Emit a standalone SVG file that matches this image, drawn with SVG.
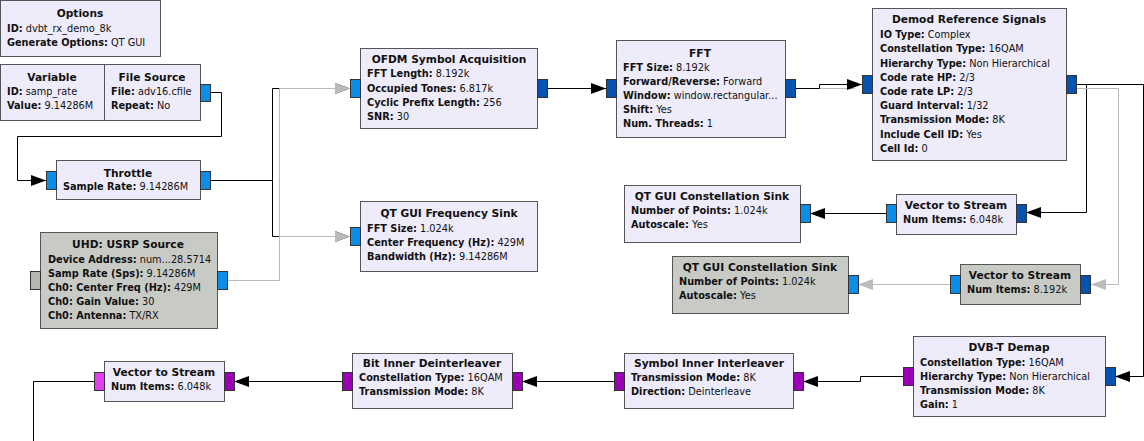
<svg xmlns="http://www.w3.org/2000/svg" width="1144" height="441" viewBox="0 0 1144 441">
<defs>
<style>
.blk{fill:#eeecfb;stroke:#555;stroke-width:1}
.dis{fill:#c8cac6;stroke:#555;stroke-width:1}
.pl{fill:#0c8ee8;stroke:#333;stroke-width:1}
.pd{fill:#0553b0;stroke:#333;stroke-width:1}
.pp{fill:#9a00b6;stroke:#333;stroke-width:1}
.pk{fill:#e23ef0;stroke:#333;stroke-width:1}
.pg{fill:#b4b6b2;stroke:#333;stroke-width:1}
text{font-family:"DejaVu Sans",sans-serif;font-size:9.75px;fill:#111}
.t{font-weight:bold;text-anchor:middle;font-size:10.67px}
.k{font-weight:bold}
.c{fill:none;stroke:#000;stroke-width:1}
.cb{marker-end:url(#ab)}
.g{fill:none;stroke:#bbb;stroke-width:1}
.cg{marker-end:url(#ag)}
</style>
<marker id="ab" viewBox="0 0 15 11" refX="15" refY="5.5" markerWidth="15" markerHeight="11" markerUnits="userSpaceOnUse" orient="auto"><path d="M0,0 L15,5.5 L0,11 z" fill="#000"/></marker>
<marker id="ag" viewBox="0 0 15 11" refX="15" refY="5.5" markerWidth="15" markerHeight="11" markerUnits="userSpaceOnUse" orient="auto"><path d="M0,0 L15,5.5 L0,11 z" fill="#bbb"/></marker>
</defs>
<rect width="1144" height="441" fill="#fff"/>

<g id="connectors">
<path class="c cb" d="M210,92.5 H221.5 V136.5 H17.5 V180.5 H46"/>
<path class="c cb" d="M210,180.5 H272.5 V88.5 H350"/>
<path class="c cb" d="M272.5,180.5 V236.5 H350"/>
<path class="c cb" d="M547,88.5 H606"/>
<path class="g" d="M819.5,88.5 H855"/>
<path class="c cb" d="M795,88.5 H819.5 V84.5 H862"/>
<path class="c cb" d="M1076,84.5 H1086.5 V212.5 H1026"/>
<path class="c cb" d="M886,213.5 H810"/>
<path class="c cb" d="M1076,84.5 H1143.5 V376.5 H1115"/>
<path class="c cb" d="M903,376.5 H860.5 V381.5 H803"/>
<path class="c cb" d="M614,381.5 H522"/>
<path class="c cb" d="M342,381.5 H234"/>
<path class="c" d="M94,381.5 H33.5 V441"/>
<path class="g cg" d="M227,280.5 H279.5 V88.5 H350"/>
<path class="g cg" d="M279.5,236.5 H350"/>
<path class="g cg" d="M1076,88.5 H1118.5 V284.5 H1091"/>
<path class="g cg" d="M950,284.5 H858"/>
</g>

<g id="options">
<rect class="blk" x="0.5" y="0.5" width="160" height="56"/>
<text class="t" x="80" y="17">Options</text>
<text x="7" y="32"><tspan class="k">ID:</tspan> dvbt_rx_demo_8k</text>
<text x="7" y="46"><tspan class="k">Generate Options:</tspan> QT GUI</text>
</g>

<g id="variable">
<rect class="blk" x="0.5" y="64.5" width="104" height="56"/>
<text class="t" x="52" y="81">Variable</text>
<text x="7" y="95"><tspan class="k">ID:</tspan> samp_rate</text>
<text x="7" y="109"><tspan class="k">Value:</tspan> 9.14286M</text>
</g>

<g id="file_source">
<rect class="blk" x="104.5" y="64.5" width="96" height="56"/>
<text class="t" x="152" y="81">File Source</text>
<text x="111" y="95"><tspan class="k">File:</tspan> adv16.cfile</text>
<text x="111" y="109"><tspan class="k">Repeat:</tspan> No</text>
<rect class="pl" x="200.5" y="84.5" width="10" height="17"/>
</g>

<g id="throttle">
<rect class="blk" x="56.5" y="160.5" width="144" height="39"/>
<text class="t" x="128" y="177">Throttle</text>
<text x="63" y="190"><tspan class="k">Sample Rate:</tspan> 9.14286M</text>
<rect class="pl" x="46.5" y="171.5" width="10" height="18"/>
<rect class="pl" x="200.5" y="171.5" width="10" height="18"/>
</g>

<g id="usrp_source">
<rect class="dis" x="40.5" y="232.5" width="177" height="96"/>
<text class="t" x="128" y="248">UHD: USRP Source</text>
<text x="48" y="263"><tspan class="k">Device Address:</tspan> num...28.5714</text>
<text x="48" y="277"><tspan class="k">Samp Rate (Sps):</tspan> 9.14286M</text>
<text x="48" y="291"><tspan class="k">Ch0: Center Freq (Hz):</tspan> 429M</text>
<text x="48" y="305"><tspan class="k">Ch0: Gain Value:</tspan> 30</text>
<text x="48" y="319"><tspan class="k">Ch0: Antenna:</tspan> TX/RX</text>
<rect class="pg" x="30.5" y="271.5" width="10" height="18"/>
<rect class="pl" x="217.5" y="271.5" width="10" height="18"/>
</g>

<g id="ofdm_sym_acq">
<rect class="blk" x="360.5" y="48.5" width="177" height="80"/>
<text class="t" x="449" y="63">OFDM Symbol Acquisition</text>
<text x="367" y="77"><tspan class="k">FFT Length:</tspan> 8.192k</text>
<text x="367" y="91.5"><tspan class="k">Occupied Tones:</tspan> 6.817k</text>
<text x="367" y="106"><tspan class="k">Cyclic Prefix Length:</tspan> 256</text>
<text x="367" y="120"><tspan class="k">SNR:</tspan> 30</text>
<rect class="pl" x="350.5" y="79.5" width="10" height="18"/>
<rect class="pd" x="537.5" y="79.5" width="10" height="18"/>
</g>

<g id="freq_sink">
<rect class="blk" x="360.5" y="201.5" width="177" height="70"/>
<text class="t" x="449" y="217">QT GUI Frequency Sink</text>
<text x="367" y="232"><tspan class="k">FFT Size:</tspan> 1.024k</text>
<text x="367" y="246"><tspan class="k">Center Frequency (Hz):</tspan> 429M</text>
<text x="367" y="260"><tspan class="k">Bandwidth (Hz):</tspan> 9.14286M</text>
<rect class="pl" x="350.5" y="227.5" width="10" height="18"/>
</g>

<g id="fft">
<rect class="blk" x="616.5" y="40.5" width="169" height="97"/>
<text class="t" x="700" y="57">FFT</text>
<text x="623" y="71"><tspan class="k">FFT Size:</tspan> 8.192k</text>
<text x="623" y="85"><tspan class="k">Forward/Reverse:</tspan> Forward</text>
<text x="623" y="99"><tspan class="k">Window:</tspan> window.rectangular...</text>
<text x="623" y="113"><tspan class="k">Shift:</tspan> Yes</text>
<text x="623" y="127"><tspan class="k">Num. Threads:</tspan> 1</text>
<rect class="pd" x="606.5" y="79.5" width="10" height="18"/>
<rect class="pd" x="785.5" y="79.5" width="10" height="18"/>
</g>

<g id="demod_ref">
<rect class="blk" x="872.5" y="8.5" width="194" height="152"/>
<text class="t" x="969" y="23">Demod Reference Signals</text>
<text x="880" y="38"><tspan class="k">IO Type:</tspan> Complex</text>
<text x="880" y="52"><tspan class="k">Constellation Type:</tspan> 16QAM</text>
<text x="880" y="66.5"><tspan class="k">Hierarchy Type:</tspan> Non Hierarchical</text>
<text x="880" y="80.5"><tspan class="k">Code rate HP:</tspan> 2/3</text>
<text x="880" y="95"><tspan class="k">Code rate LP:</tspan> 2/3</text>
<text x="880" y="109"><tspan class="k">Guard Interval:</tspan> 1/32</text>
<text x="880" y="123"><tspan class="k">Transmission Mode:</tspan> 8K</text>
<text x="880" y="137.5"><tspan class="k">Include Cell ID:</tspan> Yes</text>
<text x="880" y="151.5"><tspan class="k">Cell Id:</tspan> 0</text>
<rect class="pd" x="862.5" y="75.5" width="10" height="18"/>
<rect class="pd" x="1066.5" y="75.5" width="10" height="18"/>
</g>

<g id="const_sink_1">
<rect class="blk" x="624.5" y="185.5" width="176" height="57"/>
<text class="t" x="712" y="200">QT GUI Constellation Sink</text>
<text x="631" y="214"><tspan class="k">Number of Points:</tspan> 1.024k</text>
<text x="631" y="228"><tspan class="k">Autoscale:</tspan> Yes</text>
<rect class="pl" x="800.5" y="204.5" width="10" height="18"/>
</g>

<g id="vts_1">
<rect class="blk" x="896.5" y="194.5" width="120" height="40"/>
<text class="t" x="956" y="209">Vector to Stream</text>
<text x="903" y="223"><tspan class="k">Num Items:</tspan> 6.048k</text>
<rect class="pl" x="886.5" y="204.5" width="10" height="18"/>
<rect class="pd" x="1016.5" y="204.5" width="10" height="18"/>
</g>

<g id="const_sink_2">
<rect class="dis" x="672.5" y="256.5" width="176" height="57"/>
<text class="t" x="760" y="271">QT GUI Constellation Sink</text>
<text x="679" y="285"><tspan class="k">Number of Points:</tspan> 1.024k</text>
<text x="679" y="299"><tspan class="k">Autoscale:</tspan> Yes</text>
<rect class="pl" x="848.5" y="275.5" width="10" height="18"/>
</g>

<g id="vts_2">
<rect class="dis" x="960.5" y="264.5" width="120" height="40"/>
<text class="t" x="1020" y="279">Vector to Stream</text>
<text x="967" y="293"><tspan class="k">Num Items:</tspan> 8.192k</text>
<rect class="pl" x="950.5" y="275.5" width="10" height="18"/>
<rect class="pd" x="1080.5" y="275.5" width="10" height="18"/>
</g>

<g id="dvbt_demap">
<rect class="blk" x="913.5" y="336.5" width="192" height="80"/>
<text class="t" x="1009" y="351">DVB-T Demap</text>
<text x="920" y="366"><tspan class="k">Constellation Type:</tspan> 16QAM</text>
<text x="920" y="380"><tspan class="k">Hierarchy Type:</tspan> Non Hierarchical</text>
<text x="920" y="394"><tspan class="k">Transmission Mode:</tspan> 8K</text>
<text x="920" y="408"><tspan class="k">Gain:</tspan> 1</text>
<rect class="pp" x="903.5" y="367.5" width="10" height="18"/>
<rect class="pd" x="1105.5" y="367.5" width="10" height="18"/>
</g>

<g id="symbol_inner">
<rect class="blk" x="624.5" y="353.5" width="169" height="55"/>
<text class="t" x="709" y="367">Symbol Inner Interleaver</text>
<text x="631" y="381"><tspan class="k">Transmission Mode:</tspan> 8K</text>
<text x="631" y="395"><tspan class="k">Direction:</tspan> Deinterleave</text>
<rect class="pp" x="614.5" y="372.5" width="10" height="18"/>
<rect class="pp" x="793.5" y="372.5" width="10" height="18"/>
</g>

<g id="bit_inner">
<rect class="blk" x="352.5" y="353.5" width="160" height="55"/>
<text class="t" x="432" y="367">Bit Inner Deinterleaver</text>
<text x="359" y="381"><tspan class="k">Constellation Type:</tspan> 16QAM</text>
<text x="359" y="395"><tspan class="k">Transmission Mode:</tspan> 8K</text>
<rect class="pp" x="342.5" y="372.5" width="10" height="18"/>
<rect class="pp" x="512.5" y="372.5" width="10" height="18"/>
</g>

<g id="vts_3">
<rect class="blk" x="104.5" y="361.5" width="120" height="40"/>
<text class="t" x="164" y="376">Vector to Stream</text>
<text x="111" y="390"><tspan class="k">Num Items:</tspan> 6.048k</text>
<rect class="pk" x="94.5" y="372.5" width="10" height="18"/>
<rect class="pp" x="224.5" y="372.5" width="10" height="18"/>
</g>
</svg>
